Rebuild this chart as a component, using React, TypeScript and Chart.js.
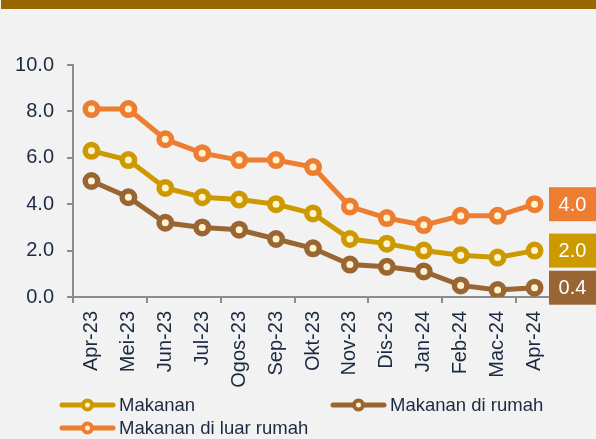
import React, { useEffect, useRef } from "react";
import { Chart, registerables } from "chart.js";

Chart.register(...registerables);

const categories = ["Apr-23", "Mei-23", "Jun-23", "Jul-23", "Ogos-23", "Sep-23", "Okt-23", "Nov-23", "Dis-23", "Jan-24", "Feb-24", "Mac-24", "Apr-24"];
const makanan = [6.3, 5.9, 4.7, 4.3, 4.2, 4.0, 3.6, 2.5, 2.3, 2.0, 1.8, 1.7, 2.0];
const makananDiRumah = [5.0, 4.3, 3.2, 3.0, 2.9, 2.5, 2.1, 1.4, 1.3, 1.1, 0.5, 0.3, 0.4];
const makananDiLuarRumah = [8.1, 8.1, 6.8, 6.2, 5.9, 5.9, 5.6, 3.9, 3.4, 3.1, 3.5, 3.5, 4.0];
const seriesNames = ["Makanan", "Makanan di rumah", "Makanan di luar rumah"];
const yMin = 0;
const yMax = 10;
const yStep = 2;

const COLORS = ["#CC9900", "#996633", "#ED7D31"];
const FILL = "#FFF2CC";
const TEXT = "#1B2A41";
const AXIS = "#8C8C8C";
const FONT = "'Liberation Sans', Arial, sans-serif";

const W = 596;
const H = 439;

const decorPlugin = {
  id: "decor",
  beforeDraw(chart: any) {
    const ctx = chart.ctx;
    ctx.save();
    ctx.fillStyle = "#996600";
    ctx.fillRect(1, 0, W - 1, 9);
    ctx.restore();
  },
  afterDatasetsDraw(chart: any) {
    const ctx = chart.ctx;
    ctx.save();
    chart.data.datasets.forEach((ds: any, i: number) => {
      const meta = chart.getDatasetMeta(i);
      const last = meta.data[meta.data.length - 1];
      const v = ds.data[ds.data.length - 1];
      const y = last.y;
      const x0 = chart.chartArea.right - 4;
      ctx.fillStyle = ds.borderColor;
      ctx.fillRect(x0, y - 17, W - x0, 34);
      ctx.fillStyle = "#FFFFFF";
      ctx.font = `20px ${FONT}`;
      ctx.textAlign = "center";
      ctx.textBaseline = "middle";
      ctx.fillText(Number(v).toFixed(1), x0 + (W - x0) / 2, y + 1);
    });
    ctx.restore();
  },
  afterDraw(chart: any) {
    const ctx = chart.ctx;
    const items = [
      { idx: 0, x: 60, y: 405 },
      { idx: 1, x: 331, y: 405 },
      { idx: 2, x: 60, y: 428 },
    ];
    ctx.save();
    items.forEach((it) => {
      const ds = chart.data.datasets[it.idx];
      ctx.strokeStyle = ds.borderColor;
      ctx.lineWidth = 5;
      ctx.lineCap = "round";
      ctx.beginPath();
      ctx.moveTo(it.x + 2, it.y);
      ctx.lineTo(it.x + 53, it.y);
      ctx.stroke();
      ctx.beginPath();
      ctx.arc(it.x + 27.5, it.y, 4.5, 0, Math.PI * 2);
      ctx.fillStyle = FILL;
      ctx.fill();
      ctx.lineWidth = 4;
      ctx.stroke();
      ctx.fillStyle = TEXT;
      ctx.font = `18.5px ${FONT}`;
      ctx.textAlign = "left";
      ctx.textBaseline = "middle";
      ctx.fillText(ds.label, it.x + 59, it.y + 1);
    });
    ctx.restore();
  },
};

export default function App() {
  const ref = useRef<HTMLCanvasElement | null>(null);
  useEffect(() => {
    if (!ref.current) return;
    const mk = (label: string, data: number[], color: string) => ({
      label,
      data,
      borderColor: color,
      backgroundColor: FILL,
      borderWidth: 5,
      pointRadius: 6.25,
      pointBorderWidth: 5.5,
      pointBackgroundColor: FILL,
      pointBorderColor: color,
      tension: 0,
      fill: false,
    });
    const chart = new Chart(ref.current, {
      type: "line",
      data: {
        labels: categories,
        datasets: [
          mk(seriesNames[0], makanan, COLORS[0]),
          mk(seriesNames[1], makananDiRumah, COLORS[1]),
          mk(seriesNames[2], makananDiLuarRumah, COLORS[2]),
        ],
      },
      options: {
        responsive: false,
        animation: false,
        devicePixelRatio: 1,
        layout: { padding: { top: 65, right: 43, left: 0, bottom: 0 } },
        plugins: { legend: { display: false }, tooltip: { enabled: false } },
        scales: {
          x: {
            type: "category",
            offset: true,
            afterFit: (s: any) => {
              s.height = H - 297;
            },
            grid: {
              offset: true,
              drawOnChartArea: false,
              drawTicks: true,
              tickLength: 6,
              lineWidth: 2,
              color: (c: any) => (typeof c.index === "number" && c.index % 2 === 0 ? AXIS : "rgba(0,0,0,0)"),
            },
            border: { display: true, color: AXIS, width: 2 },
            ticks: {
              autoSkip: false,
              maxRotation: 90,
              minRotation: 90,
              padding: 8,
              color: TEXT,
              font: { family: FONT, size: 20 },
            },
          },
          y: {
            min: yMin,
            max: yMax,
            afterFit: (s: any) => {
              s.width = 73;
            },
            grid: {
              drawOnChartArea: false,
              drawTicks: true,
              tickLength: 6,
              lineWidth: 2,
              color: AXIS,
            },
            border: { display: true, color: AXIS, width: 2 },
            ticks: {
              stepSize: yStep,
              padding: 13,
              color: TEXT,
              font: { family: FONT, size: 20 },
              callback: (v: any) => Number(v).toFixed(1),
            },
          },
        },
      },
      plugins: [decorPlugin],
    });
    return () => chart.destroy();
  }, []);
  return (
    <div style={{ position: "fixed", left: 0, top: 0, width: W, height: H, background: "#F2F2F2" }}>
      <canvas ref={ref} width={W} height={H} style={{ display: "block", width: W, height: H }} />
    </div>
  );
}
